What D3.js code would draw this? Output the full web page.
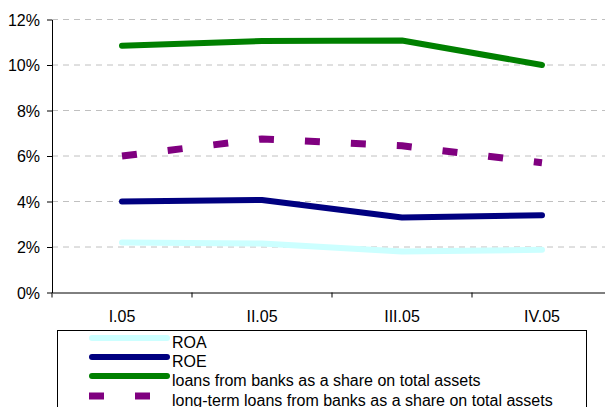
<!DOCTYPE html>
<html><head><meta charset="utf-8">
<script src="https://cdn.jsdelivr.net/npm/d3@7"></script>
<style>body{margin:0;background:#fff}svg{display:block}text{font-family:"Liberation Sans",Arial,sans-serif}</style>
</head><body>
<script>
const categories = ["I.05","II.05","III.05","IV.05"];
const roa = [2.2, 2.15, 1.8, 1.88];
const roe = [4.0, 4.07, 3.3, 3.4];
const loans = [10.85, 11.05, 11.08, 10.0];
const longTerm = [6.0, 6.75, 6.45, 5.7];
const yTicks = [0,2,4,6,8,10,12];
const seriesNames = ["ROA","ROE","loans from banks as a share on total assets","long-term loans from banks as a share on total assets"];

const W=605,H=407;
const svg=d3.select("body").append("svg").attr("width",W).attr("height",H);
const x=d3.scaleBand().domain(categories).range([52,612]);
const y=d3.scaleLinear().domain([0,12]).range([292.5,19.5]);

// grid
svg.append("g").selectAll("line").data(yTicks.filter(d=>d>0)).join("line")
  .attr("x1",52).attr("x2",W).attr("y1",d=>y(d)).attr("y2",d=>y(d))
  .attr("stroke","#c0c0c0").attr("stroke-width",1).attr("stroke-dasharray","6,5");

// y axis
const ya=svg.append("g").attr("transform","translate(52,0)")
  .call(d3.axisLeft(y).tickValues(yTicks).tickFormat(d=>d+"%").tickSize(5).tickSizeOuter(0));
ya.select(".domain").attr("stroke","#000");
ya.selectAll(".tick line").attr("stroke","#000");
ya.selectAll("text").attr("font-size","16px").attr("fill","#000").attr("x",-12).attr("dy","0.35em");

// x axis
const xa=svg.append("g").attr("transform","translate(0,292.5)")
  .call(d3.axisBottom(x).tickSize(0).tickSizeOuter(0));
xa.select(".domain").attr("stroke","#000");
xa.selectAll(".tick line").remove();
xa.selectAll("text").attr("font-size","16px").attr("fill","#000").attr("y",29).attr("dy",0);
svg.append("g").selectAll("line").data(categories).join("line")
  .attr("x1",d=>x(d)).attr("x2",d=>x(d)).attr("y1",292.5).attr("y2",297.5).attr("stroke","#000");

const cx=d=>x(d)+x.bandwidth()/2;
const series=[
  {vals:roa,color:"#CCFFFF",dash:null},
  {vals:roe,color:"#000080",dash:null},
  {vals:loans,color:"#008000",dash:null},
  {vals:longTerm,color:"#800080",dash:"15,31"}
];
const line=d3.line().x((d,i)=>cx(categories[i])).y(d=>y(d));
series.forEach(s=>{
  svg.append("path").attr("d",line(s.vals)).attr("fill","none")
    .attr("stroke",s.color).attr("stroke-width",s.dash?7:6)
    .attr("stroke-linecap",s.dash?"butt":"round").attr("stroke-linejoin","round")
    .attr("stroke-dasharray",s.dash);
});

// legend
const lg=svg.append("g");
lg.append("rect").attr("x",57.5).attr("y",330.5).attr("width",529).attr("height",90)
  .attr("fill","#fff").attr("stroke","#000");
const ly=[338,357,376,396];
series.forEach((s,i)=>{
  lg.append("line").attr("x1",s.dash?89:92).attr("x2",s.dash?150:167).attr("y1",ly[i]).attr("y2",ly[i])
    .attr("stroke",s.color).attr("stroke-width",s.dash?7:6)
    .attr("stroke-linecap",s.dash?"butt":"round").attr("stroke-dasharray",s.dash?"15,31":null);
  lg.append("text").attr("x",172).attr("y",ly[i]+10).attr("font-size","16px").text(seriesNames[i]);
});
</script>
</body></html>
